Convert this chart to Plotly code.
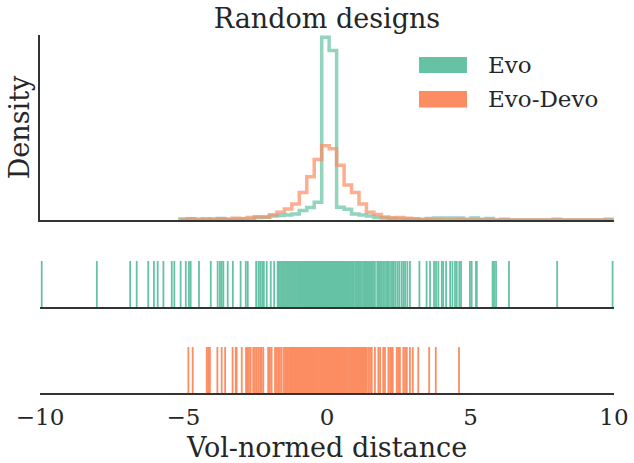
import plotly.graph_objects as go

# ---------------- data ----------------
bin_edges = [-5.125, -4.865, -4.605, -4.345, -4.085, -3.825, -3.565, -3.305, -3.045, -2.785,
             -2.525, -2.265, -2.005, -1.745, -1.485, -1.225, -0.965, -0.705, -0.445, -0.185,
             0.075, 0.335, 0.595, 0.855, 1.115, 1.375, 1.635, 1.895, 2.155, 2.415,
             2.675, 2.935, 3.195, 3.455, 3.715, 3.975, 4.235, 4.495, 4.755, 5.015,
             5.275, 5.535, 5.795, 6.055, 6.315, 6.575, 6.835, 7.095, 7.355, 7.615,
             7.875, 8.135, 8.395, 8.655, 8.915, 9.175, 9.435, 9.695, 9.955]

evo_density = [0.009, 0.009, 0.006, 0.0, 0.006, 0.012, 0.006, 0.006, 0.009, 0.006,
               0.020, 0.022, 0.031, 0.035, 0.039, 0.047, 0.075, 0.100, 0.141, 1.452,
               1.346, 0.102, 0.086, 0.047, 0.039, 0.031, 0.020, 0.016, 0.012, 0.009,
               0.008, 0.006, 0.006, 0.012, 0.016, 0.016, 0.016, 0.016, 0.006, 0.016,
               0.006, 0.012, 0.0, 0.006, 0.0, 0.0, 0.0, 0.0, 0.0, 0.0,
               0.006, 0.0, 0.0, 0.0, 0.0, 0.0, 0.0, 0.006]

evodevo_density = [0.0, 0.010, 0.0, 0.010, 0.005, 0.010, 0.005, 0.015, 0.010, 0.020,
                   0.025, 0.024, 0.041, 0.061, 0.088, 0.127, 0.218, 0.344, 0.480, 0.590,
                   0.567, 0.436, 0.279, 0.218, 0.127, 0.061, 0.043, 0.024, 0.018, 0.020,
                   0.015, 0.010, 0.0, 0.005, 0.005, 0.0, 0.0, 0.005, 0.0, 0.0,
                   0.0, 0.0, 0.0, 0.0, 0.0, 0.0, 0.0, 0.0, 0.0, 0.0,
                   0.0, 0.0, 0.0, 0.0, 0.0, 0.0, 0.0, 0.0]

evo_rug = [-9.94, -8.02, -6.86, -6.63, -6.23, -6.03, -5.90, -5.70, -5.41, -5.32, -5.10,
           -4.92, -4.81, -4.75, -4.46, -4.05, -3.81, -3.73, -3.67, -3.61, -3.46, -3.28,
           -3.01, -2.83, -2.76, -2.47, -2.39, -2.33, -2.26, -2.20, -2.10, -1.96, -1.84,
           -1.72, -1.68, -1.64, -1.60, -1.57, -1.53, -1.50, -1.46, -1.43, -1.39, -1.36,
           -1.32, -1.29, -1.25, -1.22, -1.18, -1.15, -1.11, -1.08, -1.04, -1.00,
           -0.95, -0.92, -0.88, -0.85, -0.81, -0.78, -0.74, -0.71, -0.67, -0.64, -0.60,
           -0.57, -0.53, -0.50, -0.46, -0.43, -0.39, -0.36, -0.32, -0.29, -0.25, -0.22,
           -0.18, -0.15, -0.12, -0.09, -0.06, -0.03, 0.00, 0.02, 0.05, 0.08, 0.11, 0.14,
           0.17, 0.20, 0.23, 0.26, 0.30, 0.33, 0.37, 0.40, 0.44, 0.47, 0.51, 0.54, 0.58,
           0.61, 0.65, 0.68, 0.72, 0.75, 0.78, 0.80, 0.84, 0.88, 0.93, 0.98, 1.02, 1.06,
           1.10, 1.13, 1.17, 1.21, 1.26, 1.29, 1.31, 1.34, 1.36, 1.39, 1.42, 1.45, 1.48,
           1.51, 1.54, 1.57, 1.60, 1.64, 1.67, 1.75, 1.79, 1.82, 1.86, 1.91, 1.96, 2.02,
           2.08, 2.12, 2.16, 2.23, 2.28, 2.33, 2.39, 2.46, 2.52, 2.60, 2.66, 2.72, 2.80,
           2.89, 3.22, 3.47, 3.59, 3.73, 3.80, 3.88, 4.00, 4.05, 4.15, 4.29, 4.37, 4.46,
           4.52, 4.61, 4.67, 4.98, 5.04, 5.19, 5.22, 5.77, 5.82, 5.89, 6.34, 8.02, 9.95]

evodevo_rug = [-4.83, -4.68, -4.19, -4.14, -4.08, -3.82, -3.67, -3.55, -3.29, -3.18, -3.15,
               -2.97, -2.82, -2.78, -2.72, -2.66, -2.57, -2.51, -2.45, -2.39, -2.33, -2.28,
               -2.22, -2.05, -1.99, -1.93, -1.81, -1.75, -1.70, -1.64, -1.58,
               -1.50, -1.46, -1.43, -1.39, -1.36, -1.32, -1.28, -1.25, -1.21, -1.18, -1.14,
               -1.10, -1.07, -1.03, -1.00, -0.96, -0.92, -0.89, -0.85, -0.82, -0.78, -0.74,
               -0.71, -0.67, -0.64, -0.60, -0.56, -0.53, -0.49, -0.46, -0.42, -0.38, -0.35,
               -0.31, -0.28, -0.24, -0.20, -0.17, -0.13, -0.10, -0.06, -0.02, 0.01, 0.05,
               0.08, 0.12, 0.16, 0.19, 0.23, 0.26, 0.30, 0.34, 0.37, 0.41, 0.44, 0.48, 0.52,
               0.55, 0.59, 0.62, 0.66, 0.70, 0.73, 0.77, 0.80, 0.84, 0.88, 0.91, 0.95, 0.98,
               1.02, 1.06, 1.09, 1.13, 1.16, 1.20, 1.24, 1.27, 1.31, 1.35, 1.38,
               1.44, 1.50, 1.56, 1.67, 1.79, 1.85, 1.96, 2.02, 2.14, 2.20, 2.25, 2.29, 2.43,
               2.48, 2.54, 2.66, 2.72, 2.78, 2.89, 2.99, 3.18, 3.56, 3.79, 4.60]

series_names = ["Evo", "Evo-Devo"]
tick_values = [-10, -5, 0, 5, 10]

# ---------------- style ----------------
GREEN = "#66c2a5"
ORANGE = "#fc8d62"
TEXT = "#262626"
SPINE = "#333333"
FONT = "DejaVu Serif"


def step_xy(edges, dens):
    x = [edges[0]] + list(edges) + [edges[-1]]
    y = [0] + list(dens) + [dens[-1]] + [0]
    return x, y


def rug_xy(vals):
    xs, ys = [], []
    for v in vals:
        xs += [v, v, None]
        ys += [0, 1, None]
    return xs, ys


fig = go.Figure()

for dens, col, name in [(evo_density, GREEN, series_names[0]),
                        (evodevo_density, ORANGE, series_names[1])]:
    x, y = step_xy(bin_edges, dens)
    fig.add_trace(go.Scatter(x=x, y=y, mode="lines", line=dict(color=col, width=3.5, shape="hv"),
                             opacity=0.7, name=name, showlegend=False,
                             xaxis="x", yaxis="y", hoverinfo="skip"))

for vals, col, xa, ya in [(evo_rug, GREEN, "x2", "y2"), (evodevo_rug, ORANGE, "x3", "y3")]:
    x, y = rug_xy(vals)
    fig.add_trace(go.Scatter(x=x, y=y, mode="lines", line=dict(color=col, width=1.8),
                             showlegend=False, xaxis=xa, yaxis=ya, hoverinfo="skip"))

common_x = dict(range=[-10, 10], showgrid=False, zeroline=False, showline=True,
                linecolor=SPINE, linewidth=1.5, domain=[0, 1], automargin=False)

fig.update_layout(
    width=634, height=463,
    margin=dict(l=40, r=20, t=35, b=70),
    paper_bgcolor="white", plot_bgcolor="white",
    font=dict(family=FONT, color=TEXT),
    title=dict(text="Random designs", x=0.5, xref="paper", xanchor="center",
               y=1 - 19 / 463, yref="container", yanchor="middle",
               font=dict(size=27, family=FONT, color=TEXT)),
    xaxis=dict(**common_x, anchor="y", showticklabels=False, ticks=""),
    xaxis2=dict(**common_x, anchor="y2", showticklabels=False, ticks="", matches="x"),
    xaxis3=dict(**common_x, anchor="y3", matches="x", tickvals=tick_values,
                ticks="outside", ticklen=3, tickcolor="rgba(0,0,0,0)",
                tickfont=dict(size=23, family=FONT, color=TEXT),
                title=dict(text="Vol-normed distance", standoff=12,
                           font=dict(size=27, family=FONT, color=TEXT))),
    yaxis=dict(domain=[0.4832, 1.0], range=[0, 1.47], showgrid=False, zeroline=False,
               showline=True, linecolor=SPINE, linewidth=1.5, showticklabels=False,
               ticks="", automargin=False,
               title=dict(text="Density", standoff=1,
                          font=dict(size=27, family=FONT, color=TEXT))),
    yaxis2=dict(domain=[0.2402, 0.3687], range=[0, 1], visible=False),
    yaxis3=dict(domain=[0.0, 0.1285], range=[0, 1], visible=False),
)

# legend drawn as patches + text
legend_items = [(series_names[0], GREEN, 0.8939, 0.9385), (series_names[1], ORANGE, 0.7975, 0.8436)]
for name, col, y0, y1 in legend_items:
    fig.add_shape(type="rect", xref="paper", yref="paper", x0=0.6603, x1=0.7439,
                  y0=y0, y1=y1, fillcolor=col, line=dict(width=0))
    fig.add_annotation(text=name, xref="paper", yref="paper", x=0.777, y=(y0 + y1) / 2,
                       xanchor="left", yanchor="middle", showarrow=False,
                       font=dict(size=23, family=FONT, color=TEXT))

fig.write_html("out.html")
